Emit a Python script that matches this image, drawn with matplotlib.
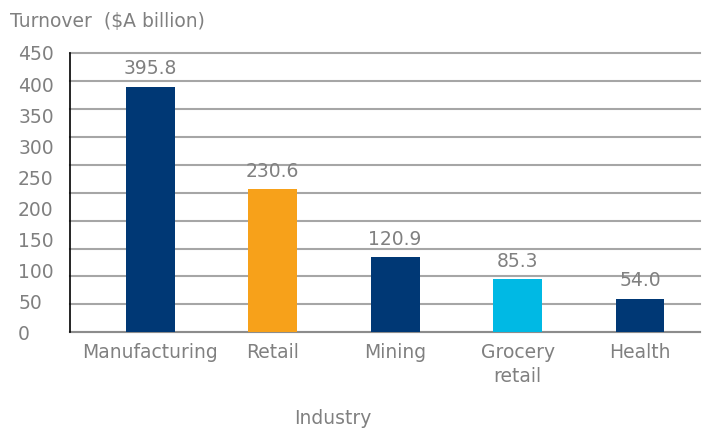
import numpy as np
import matplotlib
matplotlib.use("Agg")
import matplotlib.pyplot as plt

# === data ===
industries = ["Manufacturing", "Retail", "Mining", "Grocery\nretail", "Health"]
turnover = [395.8, 230.6, 120.9, 85.3, 54.0]
bar_colors = ["#003875", "#F7A11A", "#003875", "#00B9E4", "#003875"]
y_ticks = list(range(0, 451, 50))

TEXT = "#808080"
FS = 13.5
plt.rcParams["font.family"] = ["DejaVu Sans"]

fig = plt.figure(figsize=(7.05, 4.29), dpi=100)
ax = fig.add_axes([69.5 / 705, 1 - 332.3 / 429, (700 - 69.5) / 705, (332.3 - 53) / 429])

x = np.arange(len(industries))
bars = ax.bar(x, turnover, width=0.4, color=bar_colors, zorder=3)

for xi, v in zip(x, turnover):
    ax.annotate(f"{v:.1f}", (xi, v), xytext=(0, 6), textcoords="offset points",
                ha="center", va="bottom", fontsize=FS, color=TEXT)

ax.set_xlim(-0.66, 4.49)
ax.set_ylim(0, 450)

# gridlines (10 equal bands)
ax.yaxis.remove_overlapping_locs = False
ax.set_yticks(np.linspace(0, 450, 11), minor=True)
ax.grid(True, axis="y", which="minor", color="#A6A6A6", linewidth=1.5, zorder=0)
ax.tick_params(axis="y", which="minor", length=0)
for t in ax.yaxis.get_minor_ticks():
    t.gridline.set_clip_on(False)

ax.set_yticks(y_ticks)
ax.set_yticklabels([str(t) for t in y_ticks])
ax.tick_params(axis="y", which="major", length=0, pad=37, labelsize=FS, labelcolor=TEXT)
for lbl in ax.get_yticklabels():
    lbl.set_horizontalalignment("left")

ax.set_xticks(x)
ax.set_xticklabels(industries, linespacing=1.3)
ax.tick_params(axis="x", length=0, pad=8, labelsize=FS, labelcolor=TEXT)

for s in ["top", "right"]:
    ax.spines[s].set_visible(False)
ax.spines["left"].set_color("black")
ax.spines["left"].set_linewidth(1.2)
ax.spines["bottom"].set_color("#8C8C8C")
ax.spines["bottom"].set_linewidth(1.5)
ax.spines["left"].set_zorder(4)

fig.text(10 / 705, 1 - 21 / 429, "Turnover  ($A billion)", fontsize=FS, color=TEXT,
         ha="left", va="center")
fig.text(333 / 705, 1 - 418 / 429, "Industry", fontsize=FS, color=TEXT,
         ha="center", va="center")

fig.savefig("out.png", dpi=100)
